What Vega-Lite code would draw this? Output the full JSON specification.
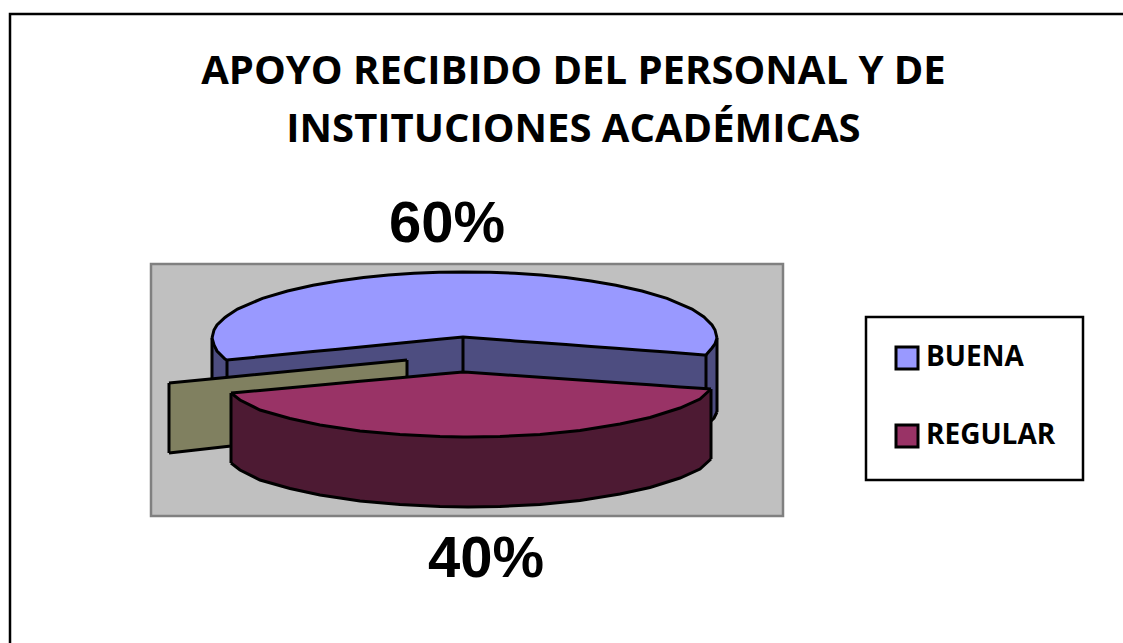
{"$schema":"https://vega.github.io/schema/vega-lite/v6.json","width":1123,"height":643,"autosize":"none","padding":0,"background":"white",
"title":{"text":["APOYO  RECIBIDO DEL PERSONAL Y DE","INSTITUCIONES ACADÉMICAS"],"anchor":"middle","dx":12,"dy":150,"font":"Open Sans","fontWeight":"bold","fontSize":40,"lineHeight":58,"color":"black","offset":0},
"config":{"view":{"stroke":null},"legend":{"symbolType":"square"}},
"datasets":{
"frame":[{"x":10,"x2":1140,"y":14,"y2":660}],
"wall":[{"x":151,"x2":783,"y":264,"y2":516}],
"labels":[{"label":"60%","x":447,"y":225},{"label":"40%","x":486,"y":560}],
"blueWall":[{"x":212,"y":338,"y2":382},{"x":227,"y":360,"y2":385},{"x":463,"y":337,"y2":400},{"x":706,"y":355,"y2":420},{"x":711,"y":348,"y2":421},{"x":717,"y":338,"y2":412}],
"blueWallEdges":[{"x":212,"y":338,"y2":382},{"x":227,"y":360,"y2":385},{"x":463,"y":337,"y2":372},{"x":706,"y":355,"y2":392},{"x":717,"y":338,"y2":412}],
"blueWallFoot":[{"x":711,"y":421},{"x":714,"y":418},{"x":717,"y":412}],
"olive":[{"x":169,"y":383,"y2":453},{"x":231,"y":377,"y2":446},{"x":407,"y":360,"y2":377}],
"oliveEdges":[{"x":169,"y":383,"y2":453},{"x":407,"y":360,"y2":377}],
"redSide":[{"x":231,"y":393,"y2":463},{"x":240,"y":400,"y2":470},{"x":260,"y":410,"y2":480},{"x":290,"y":418.5,"y2":488.5},{"x":320,"y":425,"y2":495},{"x":360,"y":431,"y2":501},{"x":400,"y":434.6,"y2":504.6},{"x":440,"y":436.6,"y2":506.6},{"x":468,"y":437,"y2":507},{"x":500,"y":436.5,"y2":506.5},{"x":540,"y":434.4,"y2":504.4},{"x":580,"y":430.4,"y2":500.4},{"x":620,"y":424,"y2":494},{"x":650,"y":417.5,"y2":487.5},{"x":680,"y":408,"y2":478},{"x":700,"y":399,"y2":469},{"x":711,"y":389,"y2":459}],
"redEdges":[{"x":231,"y":393,"y2":463},{"x":711,"y":389,"y2":459}],
"redTop":[{"x":231,"y":393,"y2":393},{"x":240,"y":392.2,"y2":400},{"x":260,"y":390.4,"y2":410},{"x":290,"y":387.7,"y2":418.5},{"x":320,"y":385,"y2":425},{"x":360,"y":381.3,"y2":431},{"x":400,"y":377.7,"y2":434.6},{"x":440,"y":374.1,"y2":436.6},{"x":463,"y":372,"y2":437},{"x":468,"y":372.3,"y2":437},{"x":500,"y":374.5,"y2":436.5},{"x":540,"y":377.3,"y2":434.4},{"x":580,"y":380,"y2":430.4},{"x":620,"y":382.8,"y2":424},{"x":650,"y":384.8,"y2":417.5},{"x":680,"y":386.9,"y2":408},{"x":700,"y":388.2,"y2":399},{"x":711,"y":389,"y2":389}],
"blueTop":[{"x":212,"y":338,"y2":338},{"x":214,"y":330,"y2":345},{"x":217,"y":325,"y2":351},{"x":225,"y":317.4,"y2":359},{"x":227,"y":316,"y2":360},{"x":237.5,"y":309,"y2":359},{"x":262.5,"y":298.4,"y2":356.5},{"x":287.5,"y":291,"y2":354.1},{"x":313,"y":285.2,"y2":351.6},{"x":338,"y":281,"y2":349.2},{"x":363.5,"y":277.5,"y2":346.7},{"x":388.5,"y":275,"y2":344.3},{"x":414,"y":273.3,"y2":341.8},{"x":439,"y":272.3,"y2":339.3},{"x":463,"y":272,"y2":337},{"x":490,"y":272.3,"y2":339},{"x":515,"y":273.3,"y2":340.9},{"x":541,"y":275,"y2":342.8},{"x":566,"y":277.5,"y2":344.6},{"x":591,"y":281,"y2":346.5},{"x":616,"y":285.2,"y2":348.3},{"x":642,"y":291,"y2":350.3},{"x":667,"y":298.4,"y2":352.1},{"x":692,"y":309,"y2":354},{"x":704,"y":317,"y2":354.9},{"x":706,"y":319,"y2":355},{"x":712,"y":325,"y2":348},{"x":715,"y":330,"y2":344},{"x":717,"y":338,"y2":338}]
},
"encoding":{
"x":{"field":"x","type":"quantitative","scale":{"domain":[0,1123],"nice":false,"zero":false},"axis":null},
"y":{"field":"y","type":"quantitative","scale":{"domain":[643,0],"nice":false,"zero":false},"axis":null}
},
"layer":[
{"data":{"name":"frame"},"mark":{"type":"rect","fill":"white","stroke":"black","strokeWidth":2.5},"encoding":{"x2":{"field":"x2"},"y2":{"field":"y2"}}},
{"data":{"name":"wall"},"mark":{"type":"rect","fill":"#C0C0C0","stroke":"#808080","strokeWidth":2.5},"encoding":{"x2":{"field":"x2"},"y2":{"field":"y2"}}},
{"data":{"name":"blueWall"},"mark":{"type":"area","color":"#4D4D80"},"encoding":{"y2":{"field":"y2"}}},
{"data":{"name":"blueWallEdges"},"mark":{"type":"rule","color":"black","strokeWidth":3},"encoding":{"y2":{"field":"y2"}}},
{"data":{"name":"blueWallFoot"},"mark":{"type":"line","color":"black","strokeWidth":3}},
{"data":{"name":"olive"},"mark":{"type":"area","color":"#808060"},"encoding":{"y2":{"field":"y2"}}},
{"data":{"name":"olive"},"mark":{"type":"line","color":"black","strokeWidth":3}},
{"data":{"name":"olive"},"mark":{"type":"line","color":"black","strokeWidth":3},"encoding":{"y":{"field":"y2","type":"quantitative"}}},
{"data":{"name":"oliveEdges"},"mark":{"type":"rule","color":"black","strokeWidth":3},"encoding":{"y2":{"field":"y2"}}},
{"data":{"name":"redSide"},"mark":{"type":"area","color":"#4D1A33"},"encoding":{"y2":{"field":"y2"}}},
{"data":{"name":"redSide"},"mark":{"type":"line","color":"black","strokeWidth":3},"encoding":{"y":{"field":"y2","type":"quantitative"}}},
{"data":{"name":"redEdges"},"mark":{"type":"rule","color":"black","strokeWidth":3},"encoding":{"y2":{"field":"y2"}}},
{"data":{"name":"redTop"},"mark":{"type":"area","opacity":1},"encoding":{"y2":{"field":"y2"},"color":{"datum":"REGULAR","type":"nominal","scale":{"domain":["BUENA","REGULAR"],"range":["#9999FF","#993366"]},"legend":{"title":null,"orient":"none","legendX":866,"legendY":317,"padding":27,"fillColor":"white","strokeColor":"black","symbolSize":484,"symbolStrokeColor":"black","symbolStrokeWidth":3,"symbolOpacity":1,"rowPadding":44,"labelFont":"Open Sans","labelFontWeight":"bold","labelFontSize":28,"labelColor":"black","labelOffset":5,"labelLimit":200,"encode":{"legend":{"update":{"strokeWidth":{"value":2.5}}}}}}}},
{"data":{"name":"redTop"},"mark":{"type":"line","color":"black","strokeWidth":3}},
{"data":{"name":"redTop"},"mark":{"type":"line","color":"black","strokeWidth":3},"encoding":{"y":{"field":"y2","type":"quantitative"}}},
{"data":{"name":"blueTop"},"mark":{"type":"area","opacity":1},"encoding":{"y2":{"field":"y2"},"color":{"datum":"BUENA","type":"nominal","scale":{"domain":["BUENA","REGULAR"],"range":["#9999FF","#993366"]},"legend":{"title":null,"orient":"none","legendX":866,"legendY":317,"padding":27,"fillColor":"white","strokeColor":"black","symbolSize":484,"symbolStrokeColor":"black","symbolStrokeWidth":3,"symbolOpacity":1,"rowPadding":44,"labelFont":"Open Sans","labelFontWeight":"bold","labelFontSize":28,"labelColor":"black","labelOffset":5,"labelLimit":200,"encode":{"legend":{"update":{"strokeWidth":{"value":2.5}}}}}}}},
{"data":{"name":"blueTop"},"mark":{"type":"line","color":"black","strokeWidth":3}},
{"data":{"name":"blueTop"},"mark":{"type":"line","color":"black","strokeWidth":3},"encoding":{"y":{"field":"y2","type":"quantitative"}}},
{"data":{"name":"labels"},"mark":{"type":"text","font":"Liberation Sans","fontWeight":"bold","fontSize":58,"color":"black","align":"center","baseline":"middle"},"encoding":{"text":{"field":"label","type":"nominal"}}}
]}
